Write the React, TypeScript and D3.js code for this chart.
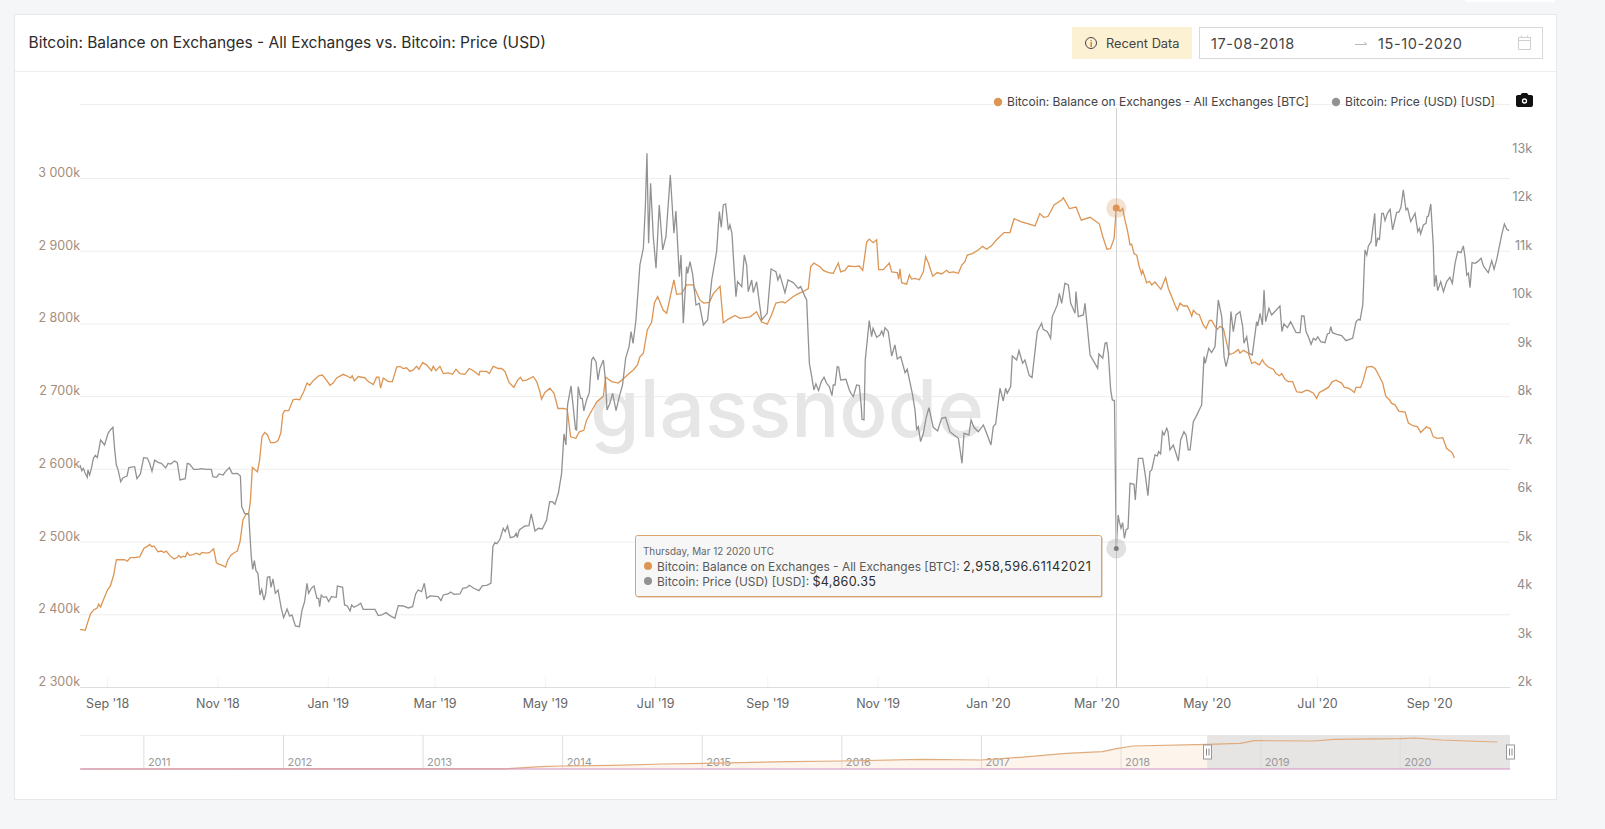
import React, { useEffect, useRef } from 'react';
import * as d3 from 'd3';

const FONT = 'Inter, "Noto Sans", sans-serif';

const startDate = Date.UTC(2018, 7, 17);
const endDay = 790.7;

// days since startDate
const balanceDays = [
  0, 1.1, 2.9, 4.4, 5.9, 7.6, 9.6, 10.3, 11.4, 13.3, 15.1, 16.8, 18.6, 20.1, 21.9, 24.7, 26.2, 27.8, 30.2, 33, 35.4, 37.6, 38.5, 39.8, 40.9, 43.1, 45, 46.4, 47.7, 49.6,
  52, 53.6, 54.7, 55.7, 57, 58.2, 59.3, 60.6, 62.5, 64.3, 66.2, 67.5, 69.9, 71.7, 73.9, 75.4, 76.7, 78.1, 80.5, 81.8, 83.7, 85.5, 87, 88.5, 90.1, 91.6, 93.3, 94.2, 95.3, 96.6,
  98.1, 99.3, 100.6, 102.1, 103.6, 105.4, 107.6, 109.5, 111, 112.2, 113.2, 115.4, 117.8, 119.6, 121.5, 123.7, 125.5, 127, 129.2, 132, 134, 136.3,
  138.2, 140, 141.9, 145.6, 147.4, 149.6, 150.5, 151.7, 153.9, 157.6, 159.4, 162.2, 164, 165.3, 166.2, 167.7, 170.5, 172.7, 175.1, 176.9, 178.7, 180.6, 182.4, 184.3, 186.1, 187.4,
  189.4, 191.6, 194.4, 195.3, 196.8, 199, 200.9, 203.6, 206, 207.9, 210.1, 212.8, 215.2, 217.5, 220.6, 221.1, 224.8, 226.3, 228.5, 231.3, 233.1, 235, 237.2, 239.9, 242, 243.6,
  244.7, 246.9, 250.6, 252.5, 254.3, 255.2, 257.1, 259.8, 262.1, 264.3, 267.2, 269.4, 271.3, 274.2, 276.1, 278.6, 280.1, 281.6, 285.7, 289.4, 290.6, 294, 297.7, 300.4, 303.6, 306,
  308.2, 309.6, 311.5, 313.7, 316.1, 317.6, 319.4, 322.5, 324.4, 328.4, 329.9, 332.7, 335.4, 339.1, 342.8, 345, 348, 350.2, 353.9, 355.7, 358.5, 362.2, 364.9, 370.5, 374.1, 376.9,
  380, 382.4, 384.8, 388.5, 389.8, 394.4, 397.2, 400, 402.7, 404, 405.8, 409.2, 411, 413.8, 416.5, 419.3, 420.6, 423, 424.8, 428.5, 430.9, 432.8, 435, 436.4, 438.6, 440.5,
  441.6, 444.2, 447.5, 448.8, 451.9, 452.7, 453.4, 454.3, 457.1, 458.6, 459.8, 461.7, 464.1, 466.3, 467.6, 469.1, 471.5, 474, 476.4, 479.2, 480.5, 482.9, 485.7, 487.5, 489.3, 490.6,
  493.4, 496.7, 499.1, 501.3, 504.1, 506.8, 510.9, 514.2, 516.5, 520.2, 524.4, 528.1, 530.7, 532.9, 535.2, 538.6, 542.9, 543.7, 547.1, 550.8, 553.6, 558.5, 563.6, 565.6, 567.8, 569.8,
  571.8, 573, 575.1, 576.5, 577.8, 579.1, 580.6, 581.5, 582.8, 584.3, 585.7, 587, 587.6, 589.8, 591.3, 592.6, 594.4, 596.3, 597.7, 600.3, 601.8, 603.6, 605.5, 606.8, 608.2, 610.1,
  612.3, 613.8, 614.7, 615.6, 617.5, 618.9, 621.1, 622.6, 624.5, 625.7, 627.6, 628.9, 630.4, 632.2, 633.7, 635.5, 637.7, 640.5, 641.4, 643.3, 646, 647.9, 649.7, 650.6, 652.1, 653.8,
  654.9, 657.1, 659.8, 661.3, 663.2, 664.5, 666.3, 668.1, 670.5, 672.7, 675.5, 677.7, 679.2, 682, 683.8, 685.3, 687.5, 690.3, 692.5, 694.5, 697.6, 699.1, 701.3, 703.2, 704.6, 705.6,
  708.1, 709.6, 711.5, 714.2, 716.1, 718.5, 720.3, 722, 724, 725.3, 727.1, 729.3, 732.7, 734.5, 737.3, 739.5, 741.3, 744.6, 745.6, 746.5, 748.3, 750.5, 753.5, 755.7, 757.9, 759, 759.9,
];
// thousands of BTC
const balanceValues = [
  2379, 2379, 2378, 2390, 2401, 2406, 2409, 2414, 2410, 2422, 2433, 2439, 2454, 2475, 2475, 2475, 2473, 2478, 2478, 2479, 2491, 2494, 2496, 2493, 2494, 2486, 2487, 2485, 2487, 2481,
  2476, 2478, 2481, 2478, 2480, 2479, 2485, 2481, 2482, 2484, 2482, 2485, 2484, 2485, 2490, 2471, 2469, 2468, 2465, 2475, 2482, 2485, 2487, 2500, 2530, 2537, 2539, 2555, 2602, 2599,
  2596, 2612, 2644, 2650, 2647, 2636, 2636, 2639, 2649, 2676, 2680, 2680, 2695, 2696, 2695, 2706, 2718, 2715, 2722, 2728, 2729, 2722,
  2715, 2718, 2725, 2730, 2728, 2725, 2728, 2721, 2727, 2725, 2720, 2716, 2726, 2726, 2711, 2725, 2720, 2720, 2740, 2741, 2738, 2739, 2734, 2736, 2741, 2737,
  2746, 2743, 2735, 2741, 2735, 2741, 2731, 2732, 2730, 2737, 2731, 2730, 2738, 2735, 2729, 2734, 2734, 2731, 2741, 2738, 2738, 2734, 2719, 2712, 2722, 2726,
  2721, 2722, 2727, 2720, 2706, 2696, 2705, 2711, 2704, 2683, 2683, 2682, 2644, 2642, 2651, 2653, 2667, 2674, 2692, 2700, 2726, 2720, 2718, 2724, 2731, 2736,
  2743, 2754, 2759, 2791, 2802, 2828, 2837, 2818, 2814, 2860, 2840, 2841, 2853, 2853, 2832, 2828, 2829, 2841, 2851, 2801, 2806, 2811, 2807, 2809, 2816, 2802,
  2799, 2812, 2828, 2830, 2828, 2837, 2841, 2844, 2848, 2878, 2883, 2878, 2873, 2870, 2869, 2883, 2871, 2873, 2879, 2878, 2879, 2873, 2912, 2916, 2911, 2915,
  2874, 2874, 2883, 2871, 2870, 2861, 2875, 2856, 2854, 2867, 2861, 2862, 2860, 2871, 2892, 2883, 2865, 2870, 2868, 2873, 2870, 2871, 2869, 2880, 2885, 2894,
  2896, 2901, 2906, 2902, 2907, 2915, 2925, 2925, 2944, 2940, 2937, 2934, 2951, 2946, 2947, 2963, 2970, 2973, 2958, 2960, 2942, 2946, 2937, 2919, 2902, 2903,
  2917, 2958.6, 2954, 2958, 2942, 2929, 2908, 2909, 2896, 2894, 2878, 2868, 2873, 2856, 2858, 2853, 2857, 2851, 2847, 2863, 2848, 2837, 2825, 2818, 2828, 2824,
  2824, 2816, 2810, 2818, 2813, 2812, 2798, 2793, 2804, 2804, 2796, 2792, 2796, 2793, 2777, 2757, 2759, 2764, 2759, 2763, 2759, 2745, 2747, 2745, 2743, 2750,
  2745, 2740, 2737, 2731, 2728, 2731, 2723, 2720, 2720, 2706, 2705, 2708, 2708, 2704, 2697, 2705, 2708, 2712, 2720, 2722, 2718, 2712, 2711, 2708, 2705, 2712,
  2712, 2722, 2740, 2741, 2738, 2727, 2718, 2700, 2695, 2690, 2688, 2679, 2678, 2663, 2659, 2658, 2650, 2658, 2656, 2656, 2644, 2642, 2643, 2628, 2624, 2621, 2615,
];

const priceDays = [
  0, 1, 1.8, 2.9, 4, 4.4, 5.3, 6.3, 7.4, 8.5, 9.6, 11.4, 13.6, 15.5, 16.8, 18.2, 19.2, 20.1, 21, 22.5, 23.8, 26, 27, 30.2, 31.5, 33.4, 35.2, 37.2, 38.5, 39.8,
  41.3, 43.1, 45, 47.4, 48.7, 50.1, 52.3, 53.8, 55.3, 58.2, 59.3, 60.6, 62.9, 65.2, 67.1, 69.9, 72.6, 73.5, 75.4, 76.9, 79.1, 80.9, 82.6, 84.2, 87, 88.7, 89.4, 91, 93.3, 93.8,
  94.7, 95.5, 96.4, 97.3, 98.4, 99.5, 100.5, 101.7, 102.7, 103.6, 104.9, 105.6, 106.7, 108, 109.5, 111.3, 112.6, 114.5, 115.9, 117.2, 119.1, 121.3, 122.8, 124.2, 125.5, 126.4, 127.9, 129.4, 131, 132,
  132.5, 133.4, 134.7, 136.2, 137.5, 139, 141.7, 142.3, 145.2, 146.3, 147.8, 149.3, 150.2, 151.5, 153.9, 155.2, 156.6, 159.4, 163.1, 164.9, 166.8, 169.2, 171.4, 174.1, 176, 178.7, 181.5, 183.9, 185.6, 187,
  188.9, 190.4, 191.7, 193.5, 198.1, 199.6, 200.9, 203.6, 204.9, 206.8, 210.1, 211.6, 213.8, 215.2, 217.8, 220.6, 222.6, 224.8, 227.2, 228.3, 229.4, 230.5, 232.2, 234, 235.1, 236.4, 237.9, 240.1, 241.2, 241.8,
  242.9, 246, 248.2, 249.5, 251.6, 253.4, 255.6, 258, 259.7, 261.3, 262.6, 264.5, 266.3, 267.6, 268.7, 269.6, 271.5, 272.7, 274, 274.6, 275.5, 276.8, 277.7, 278.6, 280.1, 281.6, 282.9, 283.8, 285.3, 286.4,
  287.5, 289.4, 290.6, 291.4, 293, 294.5, 296.4, 298.2, 300, 301.7, 303.6, 304.7, 305.8, 307.4, 309.6, 311.5, 312.6, 313.5, 314.4, 315.5, 317, 318.5, 320.3, 322.2, 324, 326.4, 328.4, 329.5, 331.4, 332.3,
  333.6, 335.4, 336, 337.3, 338.8, 340.6, 342.4, 344.7, 347, 349.3, 352, 353.5, 354.6, 355.7, 357, 358.5, 359.4, 360.5, 361.6, 362.7, 363.6, 365.9, 367.3, 368.6, 369.5, 371.4, 372.3, 374.1, 376.9, 380,
  382.1, 384.8, 385.9, 387, 389.8, 391.5, 394.4, 397.2, 398.5, 400.9, 401.8, 402.5, 403.3, 404.6, 405.8, 406.9, 408.4, 409.9, 411.4, 412.8, 414.3, 415.8, 416.5, 417.5, 418.7, 419.5, 420.6, 423.5, 425.4, 426.3,
  427.6, 429.4, 430.9, 432, 432.4, 433.5, 434.2, 436.4, 437.7, 438.5, 440.5, 442.3, 443.3, 444.2, 445.1, 446.9, 448.8, 450.6, 451.9, 453.8, 456.2, 457.4, 460.2, 461.7, 462.6, 463.5, 464.8, 466.3, 467.8, 469.4,
  471.8, 474.2, 476.4, 478.6, 481, 483.3, 485.7, 487.7, 488.8, 491.5, 492.7, 494.3, 496.7, 499.5, 501.7, 503.7, 505, 506.3, 508.7, 510.5, 511.8, 512.7, 514.6, 515.5, 517.9, 519.2, 521.2, 522.5, 524.9, 526.4,
  529.3, 531.7, 532.6, 534.9, 536.7, 537.6, 540.4, 541.5, 542.8, 544.6, 546.5, 547.8, 550.2, 550.7, 552, 554.8, 555.7, 558.5, 560.3, 562.7, 563.4, 565.5, 566.8, 567.7, 568.6, 569.9, 570.8, 572, 573, 574,
  574.7, 575.6, 576.5, 577.5, 578.4, 579.5, 580.6, 582.8, 583.5, 585.2, 587.6, 588.9, 590.5, 591.6, 592.6, 594.4, 595.7, 596.4, 597.5, 598.5, 599.4, 600.9, 601.6, 602.7, 604.5, 606, 607.3, 608.6, 610.4, 611.6,
  612.8, 613.8, 615.6, 617.1, 620.2, 621.5, 622.2, 624.1, 625.7, 627.6, 629.4, 631.3, 632.6, 633.7, 635, 636.4, 637.7, 639.2, 641.4, 642.9, 643.6, 645.1, 646.4, 648.2, 650.6, 651.2, 652.5, 653.8, 654.7, 655.6,
  657.4, 658.9, 663.5, 664.6, 665.7, 667.6, 669.4, 672.4, 674.6, 675.5, 676.8, 677.9, 679.2, 680.7, 682, 683.3, 684.4, 686, 688.4, 689.7, 690.8, 691.6, 692.5, 694.9, 697.6, 700, 703.7, 705.6, 706.9, 707.8,
  709.3, 710.5, 711.5, 712.4, 713.9, 715.9, 716.6, 717.5, 718.5, 719.8, 720.7, 721.6, 722.9, 724.4, 725.8, 728, 729.3, 730.4, 731.7, 733.2, 734.1, 735.8, 738.2, 739.7, 740.6, 741.3, 742.8, 744.3, 744.8, 745.6,
  746.9, 748.3, 748.9, 749.8, 750.7, 752.4, 753.9, 755.7, 757.5, 758.8, 760.3, 761.8, 763.6, 764.9, 765.8, 766.8, 767.7, 768.6, 769.7, 771.4, 772.8, 774.7, 776, 777.8, 778.7, 780.6, 781.9, 783.3, 786.1, 787.6, 788.9, 790.2,
];
const priceValues = [
  6582, 6465, 6513, 6410, 6327, 6480, 6375, 6513, 6720, 6781, 6733, 7098, 6994, 7235, 7304, 7359, 6891, 6582, 6492, 6238, 6320, 6355, 6527, 6547, 6300, 6396, 6733, 6726, 6616, 6451,
  6685, 6637, 6616, 6520, 6616, 6602, 6664, 6630, 6272, 6300, 6616, 6602, 6492, 6492, 6506, 6492, 6492, 6341, 6327, 6396, 6375, 6465, 6527, 6403, 6410, 6355, 5722, 5584, 5570, 5240,
  4690, 4428, 4607, 4401, 4346, 3898, 4015, 3795, 3933, 4263, 4277, 4057, 4229, 3933, 4002, 3623, 3431, 3609, 3465, 3486, 3259, 3245, 3589, 3761, 4139, 3933, 4036, 4084, 3830, 3830,
  3658, 3898, 3850, 3864, 3761, 3864, 3850, 4084, 4057, 3693, 3672, 3569, 3693, 3645, 3693, 3727, 3603, 3603, 3603, 3473, 3486, 3535, 3473, 3418, 3679, 3672, 3631, 3658, 3920, 4002,
  3968, 4140, 3830, 3879, 3865, 3782, 3899, 3920, 3961, 3913, 3920, 4037, 4051, 4099, 4037, 3989, 4092, 4099, 4140, 4897, 4979, 4959, 5048, 5275, 5206, 5323, 5083, 5103, 5172, 5083,
  5241, 5323, 5330, 5571, 5220, 5275, 5261, 5447, 5826, 5819, 5771, 5998, 6410, 7222, 6995, 7821, 8213, 7786, 7318, 7305, 8199, 7958, 7958, 7697, 7924, 8075, 8749, 8804, 8715, 8336,
  8577, 8749, 8302, 7717, 7855, 8061, 7703, 7992, 8233, 8784, 9024, 9334, 9093, 9575, 10710, 11054, 11914, 13015, 11157, 12396, 11295, 10641, 11948, 11020, 11295, 12568, 11364, 11825, 10469, 10916,
  9506, 10676, 10538, 10779, 10504, 9884, 9919, 9472, 9575, 10400, 10985, 11811, 11487, 11948, 11969, 11432, 11536, 11364, 10676, 10056, 10366, 10263, 10916, 10710, 10160, 10400, 10139, 10366, 9575, 9712,
  10627, 10572, 10400, 10504, 10139, 10400, 10345, 10228, 10263, 10056, 9988, 9369, 8681, 8405, 8130, 8254, 8116, 8302, 8392, 8268, 8199, 8013, 8233, 8233, 8612, 8598, 8337, 8350, 8130, 8061,
  7993, 8233, 8220, 7786, 7525, 7511, 8749, 9561, 9231, 9403, 9217, 9265, 9348, 9252, 9417, 9334, 8832, 9059, 8770, 8818, 8488, 8557, 8061, 7717, 7318, 7373, 7064, 7236, 7545, 7766,
  7360, 7284, 7545, 7566, 7270, 7201, 7133, 6617, 7236, 7201, 7511, 7360, 7270, 7408, 7201, 6995, 7373, 7428, 8165, 7903, 8165, 8061, 8199, 8832, 8749, 8942, 8681, 8749, 8426, 8385,
  9334, 9506, 9382, 9334, 9197, 9644, 9885, 10125, 9919, 10332, 10297, 9919, 9713, 10160, 9644, 9678, 9919, 8853, 8736, 8577, 8873, 8784, 9093, 9107, 8887, 8130, 7924, 7911, 4860, 5550,
  5413, 5275, 5392, 5069, 5241, 5275, 6204, 6183, 5860, 6720, 6720, 6410, 5949, 6445, 6479, 6789, 6768, 6858, 6809, 7270, 7202, 7339, 7270, 6892, 6995, 6823, 6665, 7098, 7270, 7202,
  6892, 6892, 7477, 7580, 7821, 8818, 8681, 8990, 8901, 9025, 9988, 9644, 8818, 8612, 8818, 9747, 9334, 9678, 9747, 9438, 9094, 9231, 8887, 8853, 9541, 9451, 9713, 9472, 10194, 9541,
  9816, 9678, 9864, 9334, 9493, 9417, 9541, 9314, 9314, 9657, 9657, 9334, 9230, 9072, 9196, 9162, 9230, 9127, 9107, 9285, 9299, 9437, 9313, 9279, 9251, 9148, 9196, 9540, 9588, 9574,
  9884, 11019, 10916, 11102, 11191, 11776, 11088, 11260, 11239, 11776, 11776, 11625, 11776, 11859, 11432, 11790, 11804, 11900, 12258, 11845, 11879, 11604, 11776, 11398, 11466, 11349, 11535, 11570, 11707, 11721,
  11969, 11088, 10262, 10503, 10180, 10366, 10159, 10366, 10455, 10331, 10744, 10985, 10964, 11102, 10882, 10503, 10538, 10242, 10758, 10744, 10778, 10847, 10689, 10593, 10551, 10799, 10620, 10813, 11329, 11556, 11446, 11418,
];

// overview strip below the chart, whole history
const navYears = [2010.55, 2013.6, 2013.85, 2013.99, 2014.36, 2014.72, 2015.02, 2015.63, 2016, 2016.58, 2017, 2017.28, 2017.61, 2017.87, 2017.98, 2018.09, 2018.62, 2018.86, 2018.96, 2019.38, 2019.53, 2020, 2020.11, 2020.3, 2020.48, 2020.7];
const navValues = [0, 20, 225, 290, 355, 484, 550, 710, 774, 936, 871, 1130, 1517, 1678, 2000, 2226, 2388, 2485, 2741, 2710, 2872, 2935, 3000, 2807, 2710, 2614];
const navTicks = [2011, 2012, 2013, 2014, 2015, 2016, 2017, 2018, 2019, 2020];

const leftTicks = [2300, 2400, 2500, 2600, 2700, 2800, 2900, 3000];
const rightTicks = [2000, 3000, 4000, 5000, 6000, 7000, 8000, 9000, 10000, 11000, 12000, 13000];

const titleText = 'Bitcoin: Balance on Exchanges - All Exchanges vs. Bitcoin: Price (USD)';
const balanceName = 'Bitcoin: Balance on Exchanges - All Exchanges [BTC]';
const priceName = 'Bitcoin: Price (USD) [USD]';

const ORANGE = '#dc9553';
const GREY = '#929292';

const toDate = (d: number) => new Date(startDate + d * 864e5);

export default function App() {
  const ref = useRef<SVGSVGElement>(null);

  useEffect(() => {
    const svg = d3.select(ref.current);
    svg.selectAll('*').remove();
    svg.style('font-family', FONT);

    const left = 80;
    const right = 1510;
    const top = 178;
    const bottom = 687;

    const x = d3.scaleUtc().domain([toDate(0), toDate(endDay)]).range([left, right]);
    const yBal = d3.scaleLinear().domain([2300, 3000]).range([bottom, top]);
    const yPrice = d3.scaleLinear().domain([2000, 13000]).range([bottom, 154]);

    // page and card
    svg.append('rect').attr('width', 1605).attr('height', 829).attr('fill', '#f5f6f8');
    svg.append('rect').attr('x', 1465).attr('y', -4).attr('width', 90).attr('height', 6).attr('fill', '#fff');
    svg
      .append('rect')
      .attr('x', 14.5)
      .attr('y', 14.5)
      .attr('width', 1542)
      .attr('height', 785)
      .attr('fill', '#fff')
      .attr('stroke', '#e6e8ea');
    svg.append('line').attr('x1', 15).attr('x2', 1556).attr('y1', 71.5).attr('y2', 71.5).attr('stroke', '#eeeeee');

    svg
      .append('text')
      .attr('x', 28.5)
      .attr('y', 48)
      .attr('font-size', 15.5)
      .attr('fill', '#2b2b2b')
      .text(titleText);

    // recent data badge
    svg.append('rect').attr('x', 1072).attr('y', 27).attr('width', 120).attr('height', 32).attr('fill', '#fdf1d3');
    svg.append('circle').attr('cx', 1091).attr('cy', 43).attr('r', 5.5).attr('fill', 'none').attr('stroke', '#444');
    svg.append('text').attr('x', 1091).attr('y', 46.5).attr('text-anchor', 'middle').attr('font-size', 9).attr('fill', '#444').text('i');
    svg.append('text').attr('x', 1106).attr('y', 48).attr('font-size', 12.8).attr('fill', '#444').text('Recent Data');

    // date range box
    svg
      .append('rect')
      .attr('x', 1199.5)
      .attr('y', 27.5)
      .attr('width', 343)
      .attr('height', 31)
      .attr('fill', '#fff')
      .attr('stroke', '#d9d9d9');
    svg.append('text').attr('x', 1211).attr('y', 48.5).attr('font-size', 14.5).attr('letter-spacing', 0.6).attr('fill', '#444').text('17-08-2018');
    svg.append('text').attr('x', 1378).attr('y', 48.5).attr('font-size', 14.5).attr('letter-spacing', 0.6).attr('fill', '#444').text('15-10-2020');
    svg.append('path').attr('d', 'M1355 44.5H1367M1364 42L1367 44.5').attr('fill', 'none').attr('stroke', '#bbb');
    svg.append('path').attr('d', 'M1518.5 37.5H1530.5V49.5H1518.5ZM1518.5 40.5H1530.5M1521.5 35.5V38M1527.5 35.5V38').attr('fill', 'none').attr('stroke', '#cfcfcf');

    // grid lines and left axis, labels sit just above their grid line
    const gridLeft = d3
      .axisLeft(yBal)
      .tickValues(leftTicks)
      .tickSize(-(right - left))
      .tickPadding(0)
      .tickFormat((d) => d3.format(',')(d as number).replace(',', ' ') + 'k');
    const gLeft = svg.append('g').attr('transform', `translate(${left},0)`).call(gridLeft);
    gLeft.select('.domain').remove();
    gLeft.selectAll('line').attr('stroke', '#eeeeee');
    gLeft
      .selectAll('text')
      .attr('font-size', 12.5)
      .attr('font-family', FONT)
      .attr('fill', '#a58d7b')
      .attr('dy', '-0.12em');

    svg.append('line').attr('x1', left).attr('x2', right).attr('y1', 104.5).attr('y2', 104.5).attr('stroke', '#eeeeee');

    const gRight = svg
      .append('g')
      .attr('transform', `translate(1532,0)`)
      .call(
        d3
          .axisLeft(yPrice)
          .tickValues(rightTicks)
          .tickSize(0)
          .tickPadding(0)
          .tickFormat((d) => `${(d as number) / 1000}k`)
      );
    gRight.select('.domain').remove();
    gRight
      .selectAll('text')
      .attr('font-size', 12.5)
      .attr('font-family', FONT)
      .attr('fill', '#8c8c8c')
      .attr('dy', '-0.12em');

    // bottom axis
    const gBottom = svg
      .append('g')
      .attr('transform', `translate(0,${bottom})`)
      .call(
        d3
          .axisBottom(x)
          .ticks(d3.utcMonth.every(2))
          .tickSize(-10)
          .tickSizeOuter(0)
          .tickPadding(12)
          .tickFormat((d) => d3.utcFormat("%b '%y")(d as Date))
      );
    gBottom.select('.domain').attr('stroke', '#dddddd');
    gBottom.selectAll('line').attr('stroke', '#f3f3f3');
    gBottom.selectAll('text').attr('font-size', 12.5).attr('font-family', FONT).attr('fill', '#666');

    // watermark
    svg
      .append('text')
      .attr('x', 787)
      .attr('y', 437)
      .attr('text-anchor', 'middle')
      .attr('font-size', 80)
      .attr('font-weight', 500)
      .attr('fill', '#e6e6e6')
      .text('glassnode');

    // series
    const balLine = d3
      .line<number>()
      .x((d) => x(toDate(d)))
      .y((_, i) => yBal(balanceValues[i]));
    const priceLine = d3
      .line<number>()
      .x((d) => x(toDate(d)))
      .y((_, i) => yPrice(priceValues[i]));
    svg.append('path').attr('d', balLine(balanceDays)).attr('fill', 'none').attr('stroke', ORANGE).attr('stroke-width', 1.3);
    svg.append('path').attr('d', priceLine(priceDays)).attr('fill', 'none').attr('stroke', GREY).attr('stroke-width', 1.3);

    // hover state at Mar 12 2020
    const hoverDay = 573;
    const hx = x(toDate(hoverDay));
    const crossX = Math.round(hx) + 0.5;
    svg.append('line').attr('x1', crossX).attr('x2', crossX).attr('y1', 108).attr('y2', bottom).attr('stroke', '#d2d2d2');
    const hoverBal = yBal(2958.6);
    const hoverPrice = yPrice(4860.35);
    svg.append('circle').attr('cx', hx).attr('cy', hoverBal).attr('r', 10).attr('fill', ORANGE).attr('opacity', 0.28);
    svg.append('circle').attr('cx', hx).attr('cy', hoverBal).attr('r', 3.5).attr('fill', ORANGE);
    svg.append('circle').attr('cx', hx).attr('cy', hoverPrice).attr('r', 10).attr('fill', GREY).attr('opacity', 0.28);
    svg.append('circle').attr('cx', hx).attr('cy', hoverPrice).attr('r', 2.5).attr('fill', '#7d7d7d');

    // legend
    svg.append('circle').attr('cx', 998).attr('cy', 102).attr('r', 4.2).attr('fill', ORANGE);
    svg.append('text').attr('x', 1007).attr('y', 106).attr('font-size', 12.05).attr('fill', '#444').text(balanceName);
    svg.append('circle').attr('cx', 1336).attr('cy', 102).attr('r', 4.2).attr('fill', GREY);
    svg.append('text').attr('x', 1345).attr('y', 106).attr('font-size', 12.05).attr('fill', '#444').text(priceName);
    svg.append('path').attr('d', 'M1516 96.5Q1516 95 1518 95H1520.5L1522 93H1527L1528.5 95H1531Q1533 95 1533 96.5V105Q1533 107 1531 107H1518Q1516 107 1516 105Z').attr('fill', '#111');
    svg.append('circle').attr('cx', 1524.5).attr('cy', 101).attr('r', 2).attr('fill', 'none').attr('stroke', '#fff').attr('stroke-width', 1.3);

    // tooltip
    const tip = svg.append('g');
    tip.append('rect').attr('x', 636.5).attr('y', 536.5).attr('width', 466).attr('height', 61).attr('rx', 2).attr('fill', '#b98f66').attr('opacity', 0.7);
    tip.append('rect').attr('x', 635.5).attr('y', 535.5).attr('width', 466).attr('height', 61).attr('rx', 2).attr('fill', '#f7f7f7').attr('stroke', '#dba56f');
    tip.append('text').attr('x', 643).attr('y', 555).attr('font-size', 9.9).attr('fill', '#666').text('Thursday, Mar 12 2020 UTC');
    tip.append('circle').attr('cx', 648).attr('cy', 566).attr('r', 4).attr('fill', ORANGE);
    const row1 = tip.append('text').attr('x', 657).attr('y', 570.5).attr('font-size', 11.95).attr('fill', '#5a5a5a');
    row1.append('tspan').text(`${balanceName}: `);
    row1.append('tspan').attr('fill', '#2e2e2e').attr('font-size', 12.6).attr('letter-spacing', 0.55).text('2,958,596.61142021');
    tip.append('circle').attr('cx', 648).attr('cy', 581).attr('r', 4).attr('fill', GREY);
    const row2 = tip.append('text').attr('x', 657).attr('y', 585.5).attr('font-size', 11.95).attr('fill', '#5a5a5a');
    row2.append('tspan').text(`${priceName}: `);
    row2.append('tspan').attr('fill', '#2e2e2e').attr('font-size', 12.6).attr('letter-spacing', 0.3).text('$4,860.35');

    // overview strip
    const navTop = 735;
    const navBottom = 769;
    const xNav = d3.scaleLinear().domain([2010.546, 2020.79]).range([left, right]);
    const yNav = d3.scaleLinear().domain([0, 3000]).range([navBottom, 738]);
    const navArea = d3
      .area<number>()
      .x((d) => xNav(d))
      .y0(navBottom)
      .y1((_, i) => yNav(navValues[i]));
    const navLine = d3
      .line<number>()
      .x((d) => xNav(d))
      .y((_, i) => yNav(navValues[i]));
    svg.append('line').attr('x1', left).attr('x2', right).attr('y1', navTop + 0.5).attr('y2', navTop + 0.5).attr('stroke', '#eeeeee');
    svg.append('path').attr('d', navArea(navYears)).attr('fill', '#fdf4ec');
    const selStart = xNav(2018.62);
    svg.append('rect').attr('x', selStart).attr('y', navTop).attr('width', right - selStart).attr('height', navBottom - navTop).attr('fill', '#e7e5e4');
    const gNav = svg
      .append('g')
      .attr('transform', `translate(0,${navBottom})`)
      .call(
        d3
          .axisTop(xNav)
          .tickValues(navTicks)
          .tickSize(navBottom - navTop)
          .tickFormat((d) => String(d))
      );
    gNav.select('.domain').remove();
    gNav.selectAll('line').attr('stroke', '#dedede');
    gNav
      .selectAll('text')
      .attr('font-size', 11)
      .attr('font-family', FONT)
      .attr('fill', '#9a9a9a')
      .attr('text-anchor', 'start')
      .attr('x', 4)
      .attr('y', -3)
      .attr('dy', 0);
    svg.append('path').attr('d', navLine(navYears)).attr('fill', 'none').attr('stroke', '#e0ab7c').attr('stroke-width', 1.2);
    svg.append('line').attr('x1', left).attr('x2', right).attr('y1', navBottom).attr('y2', navBottom).attr('stroke', '#d08fc0').attr('stroke-width', 1.2);

    [selStart, right].forEach((hxPos) => {
      const h = svg.append('g').attr('transform', `translate(${Math.round(hxPos) + 0.5},752)`);
      h.append('rect').attr('x', -4).attr('y', -7).attr('width', 8).attr('height', 14).attr('fill', '#fff').attr('stroke', '#999');
      h.append('path').attr('d', 'M-1 -3.5V3.5M1.5 -3.5V3.5').attr('stroke', '#888');
    });
  }, []);

  return (
    <svg
      ref={ref}
      width={1605}
      height={829}
      style={{ position: 'absolute', left: 0, top: 0, display: 'block' }}
    />
  );
}
